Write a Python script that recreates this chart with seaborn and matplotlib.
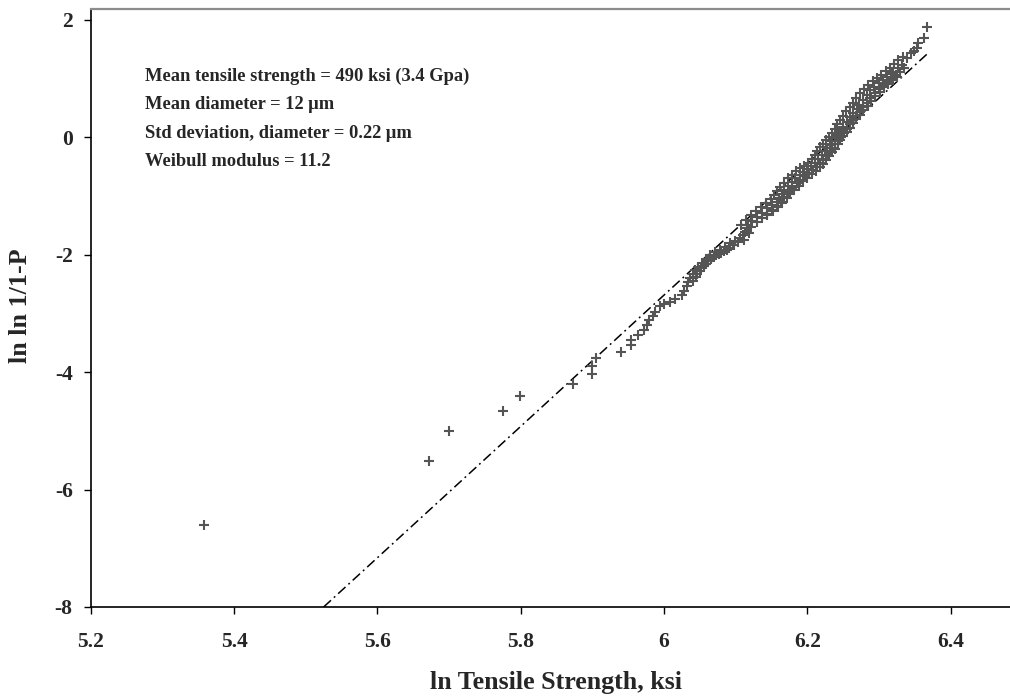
import matplotlib
matplotlib.use("Agg")
import matplotlib.pyplot as plt
import seaborn as sns
import pandas as pd

# ---- data ----
strength_ln = [
    5.3585, 5.6725, 5.700, 5.775, 5.799, 5.873, 5.899, 5.899, 5.905, 5.9395,
    5.9535, 5.9535, 5.963, 5.9725, 5.976, 5.979, 5.985, 5.988, 5.994, 6.000,
    6.008, 6.015, 6.0246, 6.028, 6.0316, 6.034, 6.036, 6.040, 6.043, 6.048,
    6.0525, 6.058, 6.064, 6.071, 6.078, 6.085, 6.092, 6.099, 6.106, 6.110,
    6.113, 6.1155, 6.1175, 6.123, 6.129, 6.136, 6.143, 6.150, 6.157, 6.160,
    6.164, 6.168, 6.173, 6.178, 6.183, 6.189, 6.194, 6.200, 6.205, 6.2106,
    6.215, 6.220, 6.224, 6.228, 6.2315, 6.235, 6.239, 6.243, 6.247, 6.250,
    6.255, 6.2595, 6.264, 6.269, 6.272, 6.278, 6.283, 6.2874, 6.293, 6.300,
    6.306, 6.311, 6.316, 6.320, 6.326, 6.3316, 6.3385, 6.344, 6.349, 6.3525,
    6.3548, 6.363, 6.3665,
    6.098, 6.112, 6.119, 6.122, 6.129, 6.136, 6.143, 6.150, 6.157, 6.163,
    6.168, 6.173, 6.179, 6.185, 6.190, 6.196, 6.202, 6.208, 6.213, 6.218,
    6.222, 6.227, 6.231, 6.235, 6.239, 6.243, 6.247, 6.251, 6.255, 6.259,
    6.263, 6.268, 6.273, 6.277, 6.283, 6.288, 6.294, 6.300, 6.306, 6.312,
    6.318, 6.323, 6.329, 6.335,
    6.040, 6.046, 6.052, 6.058, 6.066, 6.073, 6.080, 6.088,
    6.108, 6.114, 6.121, 6.128, 6.135, 6.142, 6.149, 6.153, 6.157, 6.162,
    6.167, 6.173, 6.178, 6.184, 6.190, 6.195, 6.201, 6.206, 6.210, 6.214,
    6.218, 6.222, 6.226, 6.230, 6.234, 6.238, 6.241, 6.245, 6.249, 6.254,
    6.259, 6.263, 6.268, 6.274, 6.279, 6.285, 6.291, 6.297, 6.303, 6.309,
    6.315, 6.321, 6.327, 6.333,
    6.143, 6.152, 6.159, 6.165, 6.171, 6.176, 6.182, 6.188, 6.194, 6.200,
    6.206, 6.212, 6.217, 6.222, 6.226, 6.230, 6.234, 6.238, 6.242, 6.246,
    6.250, 6.255, 6.259, 6.263, 6.268, 6.273, 6.278, 6.284, 6.289, 6.295,
    6.301, 6.307, 6.313, 6.319, 6.325,
    6.044, 6.050, 6.056, 6.062, 6.069, 6.076, 6.083, 6.090, 6.096, 6.103,
]
lnln_p = [
    -6.60, -5.51, -5.00, -4.656, -4.405, -4.20, -4.036, -3.894, -3.764, -3.65,
    -3.537, -3.46, -3.366, -3.28, -3.196, -3.11, -3.04, -2.97, -2.87, -2.83,
    -2.80, -2.75, -2.685, -2.61, -2.54, -2.47, -2.40, -2.33, -2.26, -2.20,
    -2.145, -2.07, -2.00, -1.96, -1.92, -1.86, -1.80, -1.76, -1.72, -1.66,
    -1.606, -1.55, -1.49, -1.42, -1.35, -1.28, -1.21, -1.15, -1.095, -1.03,
    -0.97, -0.90, -0.83, -0.755, -0.70, -0.64, -0.584, -0.535, -0.49, -0.442,
    -0.37, -0.30, -0.24, -0.18, -0.13, -0.07, -0.015, 0.04, 0.11, 0.18,
    0.26, 0.353, 0.41, 0.48, 0.55, 0.64, 0.73, 0.807, 0.86, 0.92,
    0.978, 1.03, 1.08, 1.12, 1.18, 1.233, 1.347, 1.43, 1.47, 1.52,
    1.60, 1.70, 1.886,
    -1.83, -1.75, -1.63, -1.52, -1.44, -1.37, -1.30, -1.23, -1.17, -1.10,
    -1.01, -0.93, -0.86, -0.78, -0.72, -0.66, -0.60, -0.55, -0.50, -0.44,
    -0.37, -0.30, -0.24, -0.18, -0.12, -0.06, 0.01, 0.07, 0.14, 0.22,
    0.30, 0.37, 0.44, 0.51, 0.59, 0.67, 0.75, 0.83, 0.89, 0.95,
    1.01, 1.06, 1.12, 1.18,
    -2.45, -2.33, -2.23, -2.15, -2.07, -2.01, -1.97, -1.91,
    -1.50, -1.40, -1.32, -1.25, -1.18, -1.11, -1.05, -0.98, -0.91, -0.84,
    -0.77, -0.70, -0.64, -0.58, -0.53, -0.48, -0.43, -0.37, -0.30, -0.23,
    -0.17, -0.11, -0.05, 0.01, 0.08, 0.15, 0.22, 0.29, 0.37, 0.45,
    0.52, 0.59, 0.67, 0.75, 0.83, 0.90, 0.96, 1.02, 1.07, 1.13,
    1.19, 1.25, 1.31, 1.37,
    -1.33, -1.26, -1.19, -1.12, -1.04, -0.96, -0.89, -0.82, -0.75, -0.69,
    -0.63, -0.57, -0.51, -0.45, -0.38, -0.31, -0.25, -0.19, -0.12, -0.05,
    0.02, 0.09, 0.16, 0.24, 0.31, 0.38, 0.46, 0.54, 0.62, 0.70,
    0.78, 0.85, 0.91, 0.97, 1.03,
    -2.38, -2.28, -2.19, -2.11, -2.04, -1.99, -1.94, -1.88, -1.83, -1.78,
]
fit_x = [5.525, 6.367]
fit_y = [-8.0, 1.42]

x_ticks = [5.2, 5.4, 5.6, 5.8, 6.0, 6.2, 6.4]
x_tick_labels = ["5.2", "5.4", "5.6", "5.8", "6", "6.2", "6.4"]
y_ticks = [-8, -6, -4, -2, 0, 2]
y_tick_labels = ["-8", "-6", "-4", "-2", "0", "2"]

notes = [
    "Mean tensile strength = 490 ksi (3.4 Gpa)",
    "Mean diameter = 12 \u03bcm",
    "Std deviation, diameter = 0.22 \u03bcm",
    "Weibull modulus = 11.2",
]

# ---- style ----
sns.set_style("ticks")
plt.rcParams["font.family"] = ["Liberation Serif", "DejaVu Serif"]
plt.rcParams["font.weight"] = "bold"

W, H = 1010, 698
fig = plt.figure(figsize=(W / 100, H / 100), dpi=100)
ax = fig.add_axes([90.7 / W, (H - 607) / H, (W - 90.7) / W, (607 - 9) / H])

pts = pd.DataFrame({"x": strength_ln, "y": lnln_p})
fit = pd.DataFrame({"x": fit_x, "y": fit_y})

sns.lineplot(data=fit, x="x", y="y", ax=ax, color="black", linewidth=1.1,
             dashes=False, legend=False)
ax.lines[-1].set_dashes((6.5, 2.6, 1.2, 2.6))
sns.scatterplot(data=pts, x="x", y="y", ax=ax, marker="+", s=58,
                color="#555555", linewidth=1.5, legend=False, zorder=3)

ax.set_xlim(5.2, 5.2 + (W - 90.7) / 716.7)
ax.set_ylim(-8, 2.187)
ax.set_xticks(x_ticks)
ax.set_xticklabels(x_tick_labels)
ax.set_yticks(y_ticks)
ax.set_yticklabels(y_tick_labels)
ax.tick_params(axis="both", direction="out", length=5, width=1.0,
               labelsize=15.5, color="black")
ax.tick_params(axis="x", pad=13)
ax.tick_params(axis="y", pad=8)
for lab in ax.get_xticklabels() + ax.get_yticklabels():
    lab.set_fontweight("bold")

for side in ("left", "bottom"):
    ax.spines[side].set_color("black")
    ax.spines[side].set_linewidth(1.2)
ax.spines["top"].set_color("#8c8c8c")
ax.spines["top"].set_linewidth(1.6)
ax.spines["right"].set_visible(False)
ax.grid(False)

ax.set_xlabel("")
ax.set_ylabel("")
fig.text(556 / W, 1 - 682 / H, "ln Tensile Strength, ksi", ha="center",
         va="center", fontsize=18.7, fontweight="bold")
fig.text(21 / W, 1 - 306 / H, "ln ln 1/1-P", ha="center", va="center",
         rotation=90, fontsize=18.7, fontweight="bold")

for i, t in enumerate(notes):
    fig.text(145 / W, 1 - (76 + 28.5 * i) / H, t, ha="left", va="center",
             fontsize=13.3, fontweight="bold")

fig.savefig("out.png", dpi=100)
